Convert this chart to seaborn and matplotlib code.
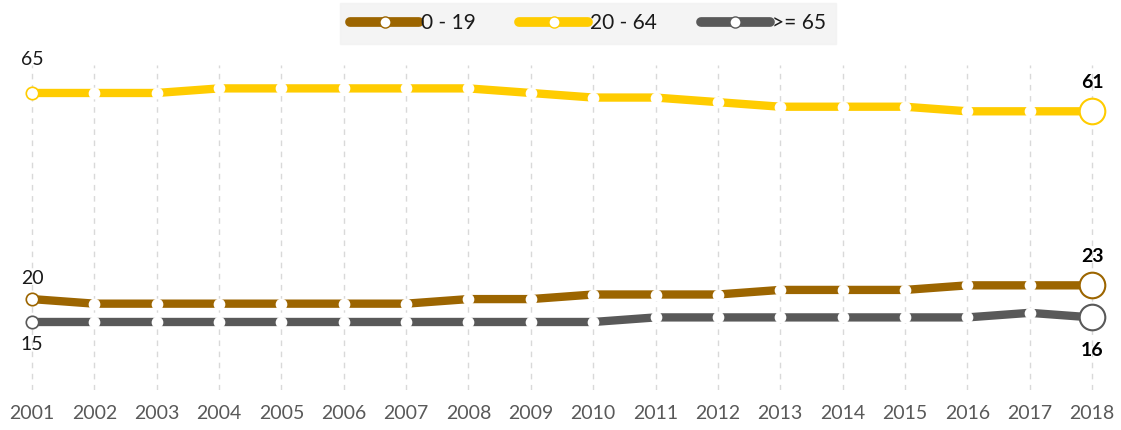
import numpy as np
import pandas as pd
import matplotlib
matplotlib.use("Agg")
import matplotlib.pyplot as plt
from matplotlib.lines import Line2D
import seaborn as sns

years = list(range(2001, 2019))
age_0_19 = [20, 19, 19, 19, 19, 19, 19, 20, 20, 21, 21, 21, 22, 22, 22, 23, 23, 23]
age_20_64 = [65, 65, 65, 66, 66, 66, 66, 66, 65, 64, 64, 63, 62, 62, 62, 61, 61, 61]
age_65_plus = [15, 15, 15, 15, 15, 15, 15, 15, 15, 15, 16, 16, 16, 16, 16, 16, 17, 16]
series_names = ["0 - 19", "20 - 64", ">= 65"]
colors = ["#9C6500", "#FFCC00", "#595959"]

sns.set_theme(style="white")
plt.rcParams['font.family'] = ['Lato', 'DejaVu Sans']

df = pd.DataFrame({"year": years * 3,
                   "value": age_0_19 + age_20_64 + age_65_plus,
                   "group": np.repeat(series_names, len(years))})

fig = plt.figure(figsize=(11.21, 4.30), dpi=100)
ax = fig.add_axes([0.0, 40 / 430, 1.0, 390 / 430])
ax.set_xlim(2000.487, 2018.465)
ax.set_ylim(0.15, 85.3)

ax.vlines(years, 0.15, 71.1, colors="#D9D9D9", linestyles=(0, (4, 4)), linewidth=1.0, zorder=0)

sns.lineplot(data=df, x="year", y="value", hue="group", palette=colors,
             linewidth=6.0, ax=ax, legend=False, zorder=2)

# label offsets in points (start, end)
label_offsets = {"0 - 19": (14.5, 20.5), "20 - 64": (24, 20.5), ">= 65": (-16.5, -24)}
for name, col in zip(series_names, colors):
    vals = df[df.group == name]["value"].tolist()
    ax.scatter(years[1:-1], vals[1:-1], s=55, color="white", edgecolor="white", zorder=3)
    ax.scatter([years[0]], [vals[0]], s=80, color="white", edgecolor=col, linewidth=1.2, zorder=3)
    ax.scatter([years[-1]], [vals[-1]], s=340, color="white", edgecolor=col, linewidth=1.5, zorder=3)
    o_start, o_end = label_offsets[name]
    ax.annotate(str(vals[0]), (years[0], vals[0]), xytext=(0, o_start), textcoords="offset points",
                ha="center", va="center", fontsize=14, color="#1a1a1a")
    ax.annotate(str(vals[-1]), (years[-1], vals[-1]), xytext=(0, o_end), textcoords="offset points",
                ha="center", va="center", fontsize=14, fontweight="bold", color="black")

ax.set_xticks(years)
ax.set_xticklabels([str(y) for y in years], fontsize=14, color="#595959")
ax.tick_params(axis="x", length=0, pad=11)
ax.set_yticks([])
ax.set_xlabel("")
ax.set_ylabel("")
for s in ax.spines.values():
    s.set_visible(False)

handles = [Line2D([0], [0], color=c, linewidth=7, solid_capstyle="round", marker="o",
                  markersize=8, markerfacecolor="white", markeredgecolor=c) for c in colors]
leg = fig.legend(handles, series_names, loc="upper center", bbox_to_anchor=(0.5245, 0.993), ncol=3,
                 frameon=True, fontsize=15, handlelength=3.3, handletextpad=0.1, columnspacing=2.1,
                 borderpad=0.5, borderaxespad=0.0, numpoints=1, fancybox=False)
leg.get_frame().set_facecolor("#F2F2F2")
leg.get_frame().set_edgecolor("#F2F2F2")
for t in leg.get_texts():
    t.set_color("#1a1a1a")

fig.savefig("out.png", dpi=100)
